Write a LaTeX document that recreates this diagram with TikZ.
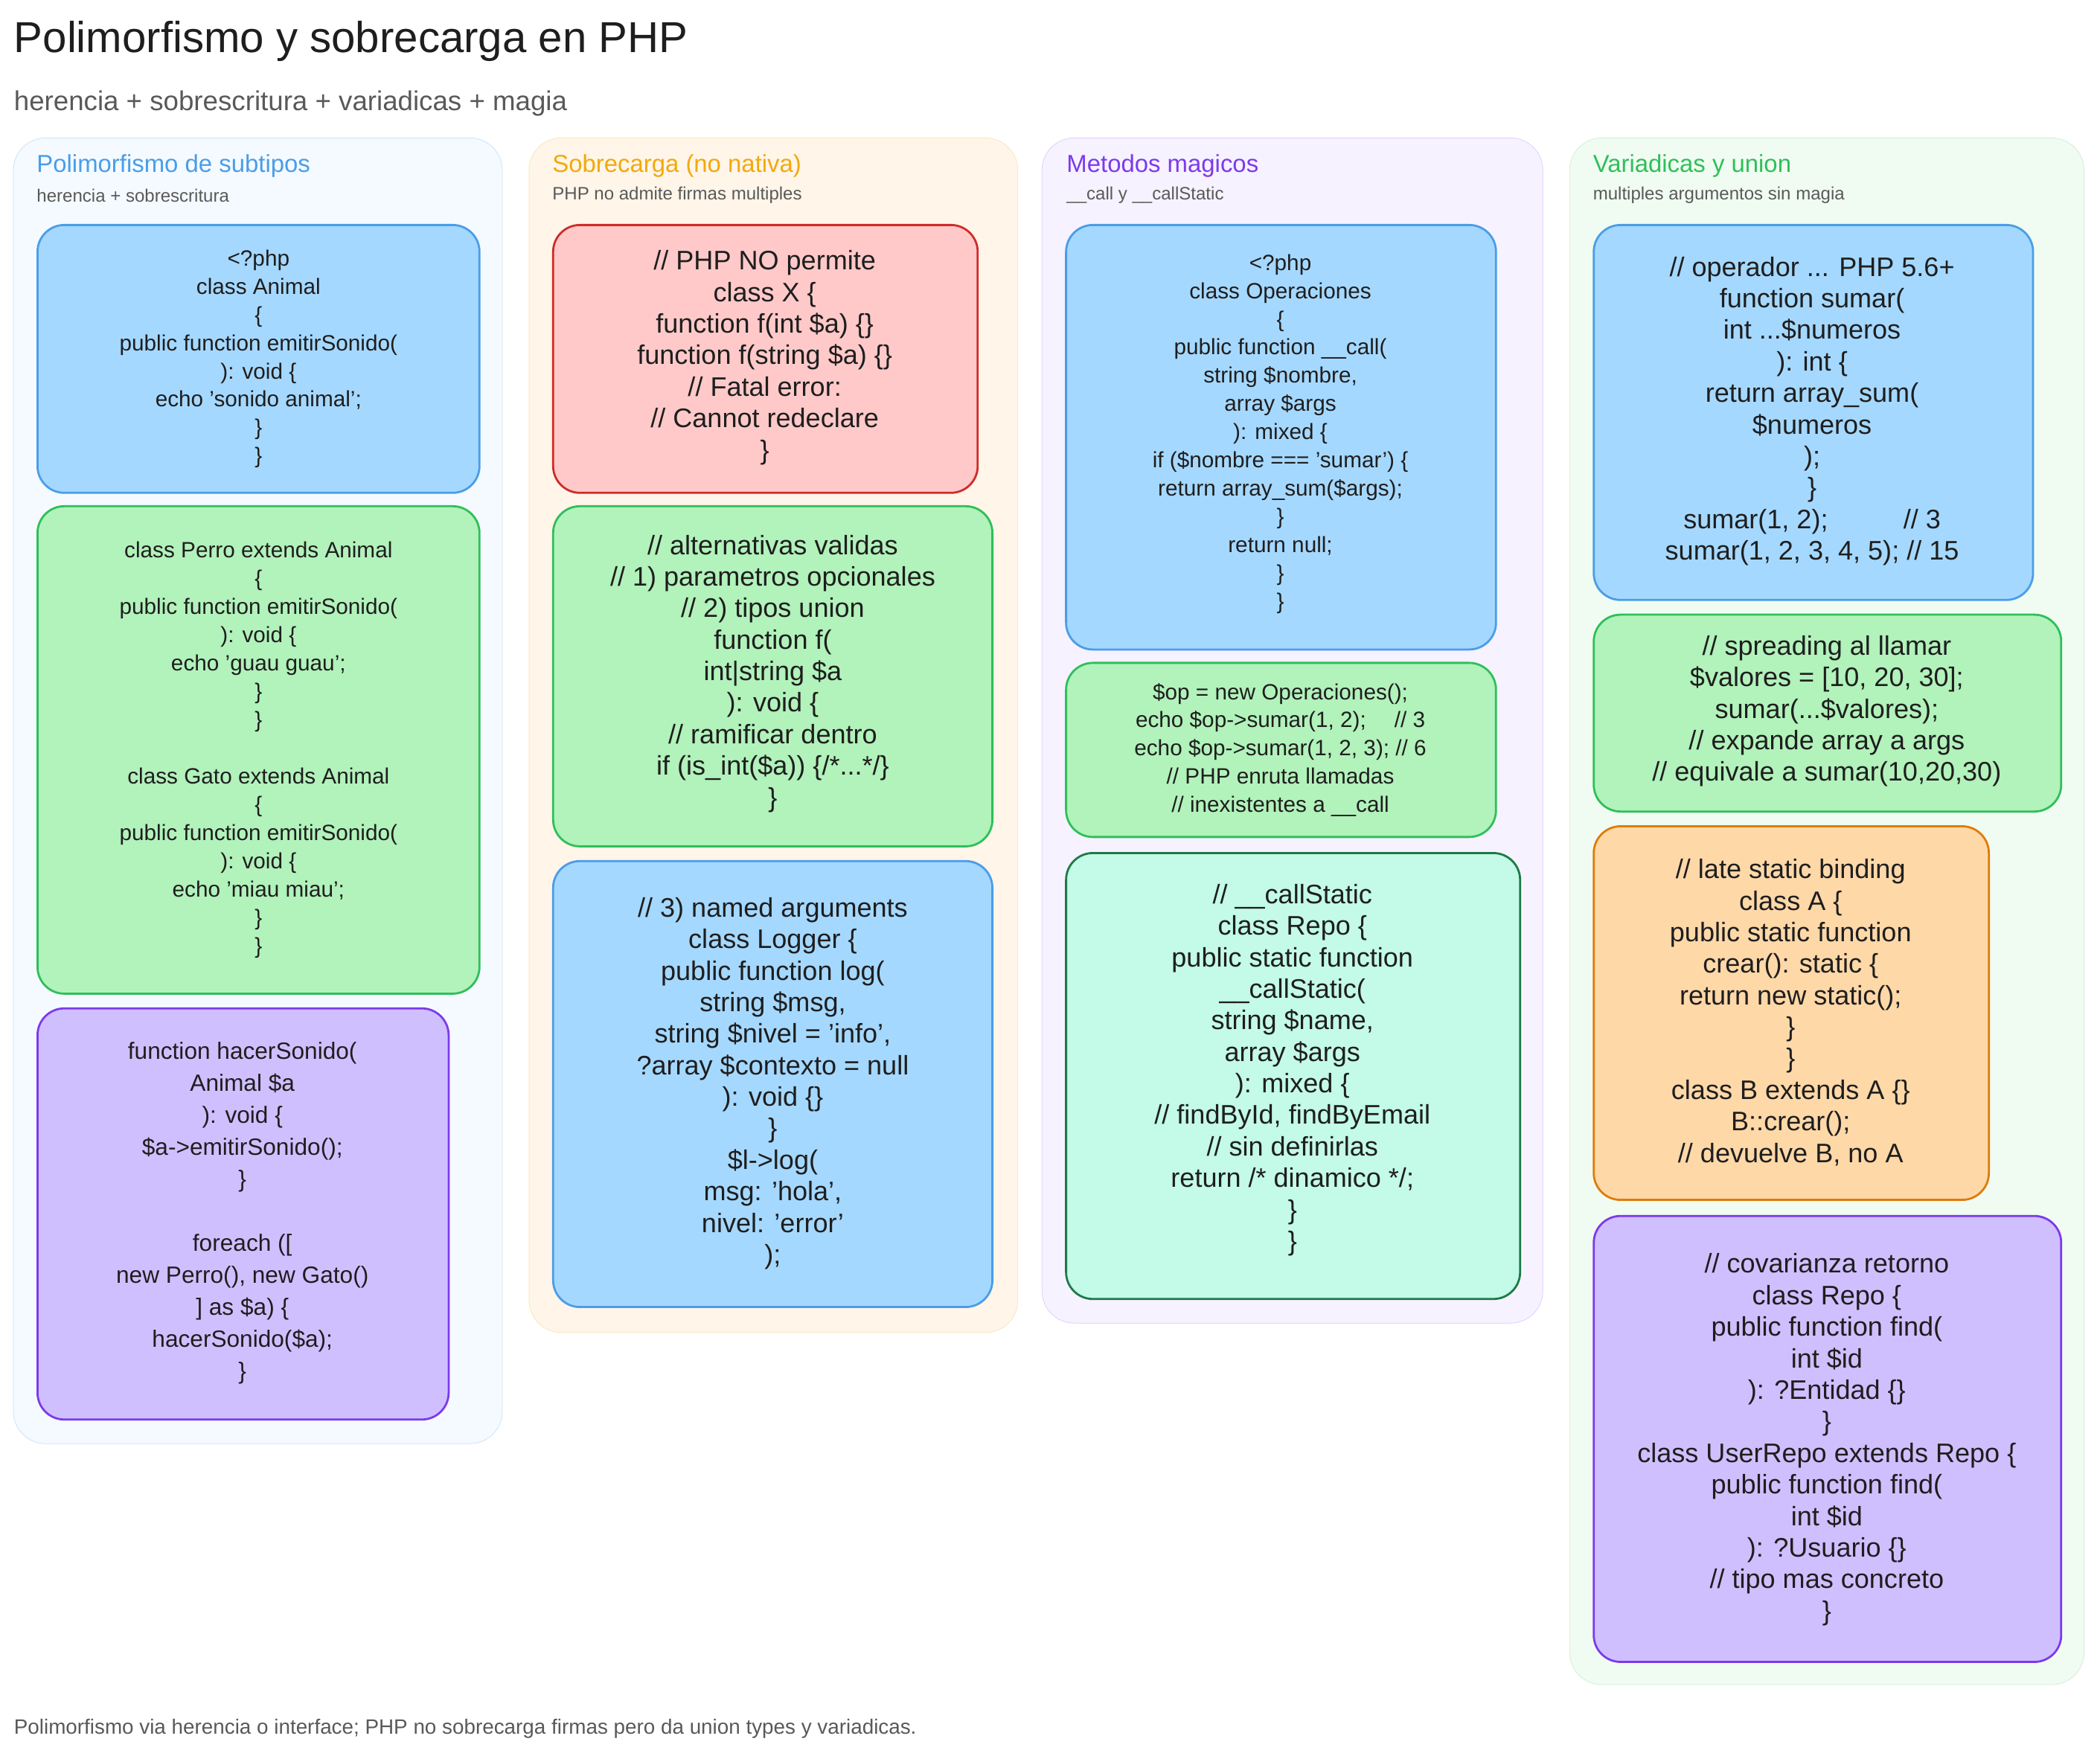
\documentclass[tikz,border=0pt]{standalone}
\usepackage{fontspec}
\setmainfont{Liberation Sans}
\begin{document}
\definecolor{ink}{HTML}{1E1E1E}
\definecolor{bluF}{HTML}{A5D8FF}\definecolor{bluD}{HTML}{4A9DE8}
\definecolor{grnF}{HTML}{B2F2BB}\definecolor{grnD}{HTML}{2FBF5A}
\definecolor{purF}{HTML}{D0BFFF}\definecolor{purD}{HTML}{7C3AED}
\definecolor{redF}{HTML}{FFC9C9}\definecolor{redD}{HTML}{D02A2A}
\definecolor{tealF}{HTML}{C3FAE8}\definecolor{tealD}{HTML}{1E7A45}
\definecolor{orgF}{HTML}{FFD8A8}\definecolor{orgD}{HTML}{E07B0A}
\definecolor{ttlO}{HTML}{F2A90C}\definecolor{ttlG}{HTML}{2FBF5A}
\begin{tikzpicture}[x=0.5mm,y=-0.5mm,
  panel/.style={rounded corners=12mm,line width=0.6pt},
  box/.style={rounded corners=10mm,line width=2.2pt},
  code/.style={align=center,text=ink},
  ptitle/.style={anchor=west,font=\fontsize{26}{30}\selectfont},
  psub/.style={anchor=west,text=black!65,font=\fontsize{19}{22}\selectfont},
  small/.style={font=\fontsize{23.5}{30}\selectfont},
  mid/.style={font=\fontsize{25}{34}\selectfont},
  big/.style={font=\fontsize{28.5}{33.5}\selectfont}]
\useasboundingbox[fill=white] (0,0) rectangle (1568,1313);
\node[anchor=west,text=ink,font=\fontsize{46}{52}\selectfont] (title) at (8,31) {Polimorfismo y sobrecarga en PHP};
\node[anchor=west,text=black!65,font=\fontsize{29}{32}\selectfont] (subt) at (8,77) {herencia + sobrescritura + variadicas + magia};
\node[anchor=west,text=black!65,font=\fontsize{22}{26}\selectfont] (foot) at (8,1291) {Polimorfismo via herencia o interface; PHP no sobrecarga firmas pero da union types y variadicas.};
% panels
\draw[panel,fill=bluF!12,draw=bluD!30] (10,103) rectangle (375,1078);
\draw[panel,fill=orgF!25,draw=ttlO!30] (395,103) rectangle (760,995);
\draw[panel,fill=purF!20,draw=purD!25] (778,103) rectangle (1152,988);
\draw[panel,fill=grnF!20,draw=grnD!25] (1172,103) rectangle (1556,1258);
\node[ptitle,text=bluD] (t1) at (25,124) {Polimorfismo de subtipos};
\node[psub] (s1) at (25,146) {herencia + sobrescritura};
\node[ptitle,text=ttlO] (t2) at (410,124) {Sobrecarga (no nativa)};
\node[psub] (s2) at (410,146) {PHP no admite firmas multiples};
\node[ptitle,text=purD] (t3) at (794,124) {Metodos magicos};
\node[psub] (s3) at (794,146) {\_\_call y \_\_callStatic};
\node[ptitle,text=ttlG] (t4) at (1187,124) {Variadicas y union};
\node[psub] (s4) at (1187,146) {multiples argumentos sin magia};
% column 1
\draw[box,fill=bluF,draw=bluD] (28,168) rectangle (358,368);
\node[code,small] (a1) at (193,268) {<?php\\class Animal\\\{\\public function emitirSonido(\\): void \{\\echo 'sonido animal';\\\}\\\}};
\draw[box,fill=grnF,draw=grnD] (28,378) rectangle (358,742);
\node[code,small] (a2) at (193,560) {class Perro extends Animal\\\{\\public function emitirSonido(\\): void \{\\echo 'guau guau';\\\}\\\}\\[30pt]class Gato extends Animal\\\{\\public function emitirSonido(\\): void \{\\echo 'miau miau';\\\}\\\}};
\draw[box,fill=purF,draw=purD] (28,753) rectangle (335,1060);
\node[code,mid] (a3) at (181,906) {function hacerSonido(\\Animal \$a\\): void \{\\\$a->emitirSonido();\\\}\\[34pt]foreach ([\\new Perro(), new Gato()\\] as \$a) \{\\hacerSonido(\$a);\\\}};
% column 2
\draw[box,fill=redF,draw=redD] (413,168) rectangle (730,368);
\node[code,big] (b1) at (571,267) {// PHP NO permite\\class X \{\\function f(int \$a) \{\}\\function f(string \$a) \{\}\\// Fatal error:\\// Cannot redeclare\\\}};
\draw[box,fill=grnF,draw=grnD] (413,378) rectangle (741,632);
\node[code,big] (b2) at (577,503) {// alternativas validas\\// 1) parametros opcionales\\// 2) tipos union\\function f(\\int|string \$a\\): void \{\\// ramificar dentro\\if (is\_int(\$a)) \{/*...*/\}\\\}};
\draw[box,fill=bluF,draw=bluD] (413,643) rectangle (741,976);
\node[code,big] (b3) at (577,809) {// 3) named arguments\\class Logger \{\\public function log(\\string \$msg,\\string \$nivel = 'info',\\?array \$contexto = null\\): void \{\}\\\}\\\$l->log(\\msg: 'hola',\\nivel: 'error'\\);};
% column 3
\draw[box,fill=bluF,draw=bluD] (796,168) rectangle (1117,485);
\node[code,small] (c1) at (956,324) {<?php\\class Operaciones\\\{\\public function \_\_call(\\string \$nombre,\\array \$args\\): mixed \{\\if (\$nombre === 'sumar') \{\\return array\_sum(\$args);\\\}\\return null;\\\}\\\}};
\draw[box,fill=grnF,draw=grnD] (796,495) rectangle (1117,625);
\node[code,small] (c2) at (956,560) {\$op = new Operaciones();\\echo \$op->sumar(1, 2);\quad\ // 3\\echo \$op->sumar(1, 2, 3); // 6\\// PHP enruta llamadas\\// inexistentes a \_\_call};
\draw[box,fill=tealF,draw=tealD] (796,637) rectangle (1135,970);
\node[code,big] (c3) at (965,799) {// \_\_callStatic\\class Repo \{\\public static function\\\_\_callStatic(\\string \$name,\\array \$args\\): mixed \{\\// findById, findByEmail\\// sin definirlas\\return /* dinamico */;\\\}\\\}};
% column 4
\draw[box,fill=bluF,draw=bluD] (1190,168) rectangle (1518,448);
\node[code,big] (d1) at (1353,307) {// operador ... PHP 5.6+\\function sumar(\\int ...\$numeros\\): int \{\\return array\_sum(\\\$numeros\\);\\\}\\sumar(1, 2);\hspace{80pt}// 3\\sumar(1, 2, 3, 4, 5); // 15};
\draw[box,fill=grnF,draw=grnD] (1190,459) rectangle (1539,606);
\node[code,big] (d2) at (1364,531) {// spreading al llamar\\\$valores = [10, 20, 30];\\sumar(...\$valores);\\// expande array a args\\// equivale a sumar(10,20,30)};
\draw[box,fill=orgF,draw=orgD] (1190,617) rectangle (1485,896);
\node[code,big] (d3) at (1337,756) {// late static binding\\class A \{\\public static function\\crear(): static \{\\return new static();\\\}\\\}\\class B extends A \{\}\\B::crear();\\// devuelve B, no A};
\draw[box,fill=purF,draw=purD] (1190,908) rectangle (1539,1241);
\node[code,big] (d4) at (1364,1075) {// covarianza retorno\\class Repo \{\\public function find(\\int \$id\\): ?Entidad \{\}\\\}\\class UserRepo extends Repo \{\\public function find(\\int \$id\\): ?Usuario \{\}\\// tipo mas concreto\\\}};
\end{tikzpicture}
\end{document}
